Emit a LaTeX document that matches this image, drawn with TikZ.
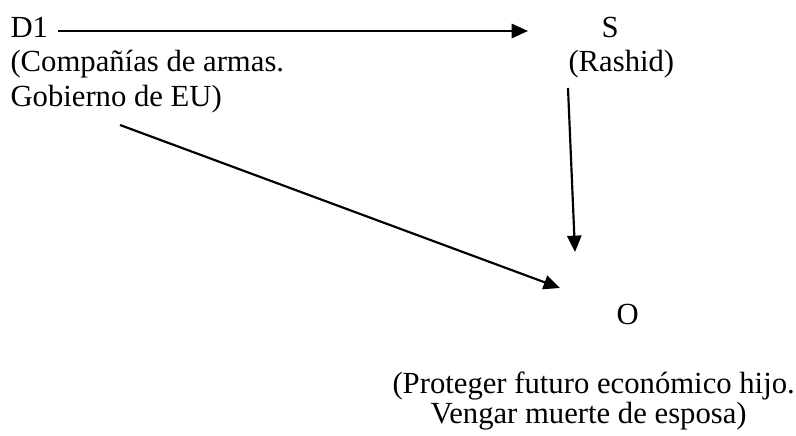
\documentclass[tikz,border=0pt]{standalone}
\usepackage{fontspec}
\setmainfont{Liberation Serif}
\usetikzlibrary{arrows.meta}
\begin{document}
\begin{tikzpicture}[x=0.391pt,y=-0.391pt,
  lbl/.style={anchor=base west,inner sep=0pt,font=\fontsize{12pt}{14pt}\selectfont},
  link/.style={line width=0.85pt,-{Triangle[length=6.4pt,width=5.6pt]}}]
  \useasboundingbox (0,0) rectangle (796,436);
  % actors
  \node[lbl] (d1)  at (10,38)  {D1};
  \node[lbl] (d1a) at (10,72)  {(Compañías de armas.};
  \node[lbl] (d1b) at (10,107) {Gobierno de EU)};
  \node[lbl] (s)   at (601,38) {S};
  \node[lbl] (sr)  at (568,72) {(Rashid)};
  \node[lbl] (o)   at (616,325) {O};
  \node[lbl] (oa)  at (392,394) {(Proteger futuro económico hijo.};
  \node[lbl] (ob)  at (430,424) {Vengar muerte de esposa)};
  % arrow end points
  \coordinate (d1out) at (58,31);
  \coordinate (sin)   at (528,31);
  \coordinate (srout) at (568,88);
  \coordinate (oin1)  at (575,252);
  \coordinate (d1bout) at (120,125);
  \coordinate (oin2)  at (560,288);
  % relations
  \draw[link] (d1out) -- (sin);
  \draw[link] (srout) -- (oin1);
  \draw[link] (d1bout) -- (oin2);
\end{tikzpicture}
\end{document}
